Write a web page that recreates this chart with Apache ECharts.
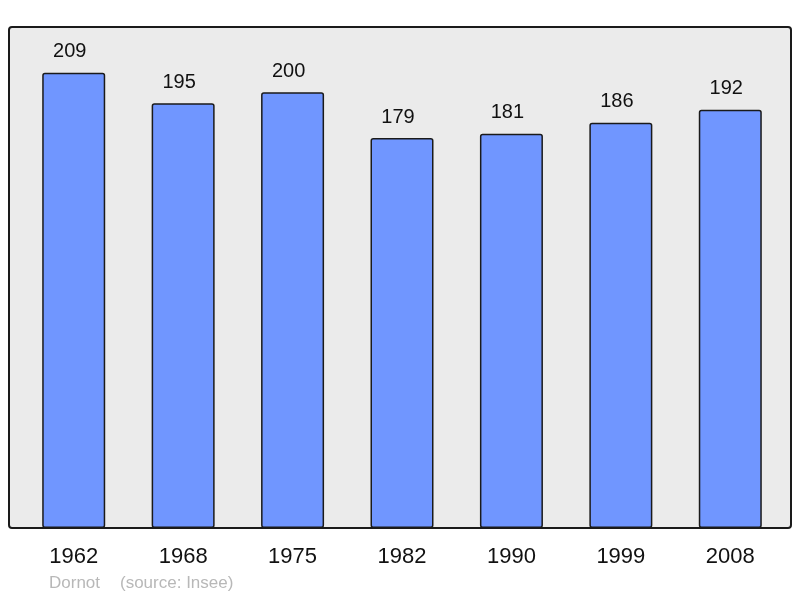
<!DOCTYPE html>
<html style='height: 100%'>
<head>
    <meta charset='utf-8'>
</head>
<body style='height: 100%; margin: 0; background: #fff'>
    <div id='container' style='width: 800px; height: 598px'></div>
    <script type='text/javascript' src='https://cdn.jsdelivr.net/npm/echarts@6/dist/echarts.min.js'></script>
    <script type="text/javascript">
var years = ['1962', '1968', '1975', '1982', '1990', '1999', '2008'];
var population = [209, 195, 200, 179, 181, 186, 192];

var dom = document.getElementById("container");
var myChart = echarts.init(dom);
var option = {
    backgroundColor: '#ffffff',
    animation: false,
    textStyle: { fontFamily: 'Liberation Sans' },
    graphic: [
        {
            type: 'rect',
            z: -10,
            shape: { x: 9, y: 27, width: 782, height: 501, r: 3 },
            style: { fill: '#ebebeb', stroke: '#1a1a1a', lineWidth: 2 }
        },
        {
            type: 'text',
            left: 49,
            top: 575,
            style: {
                text: 'Dornot',
                fill: '#b8b8b8',
                font: '17px "Liberation Sans"'
            }
        },
        {
            type: 'text',
            left: 120,
            top: 575,
            style: {
                text: '(source: Insee)',
                fill: '#b8b8b8',
                font: '17px "Liberation Sans"'
            }
        }
    ],
    grid: {
        left: 19,
        right: 15,
        top: 27,
        bottom: 70
    },
    xAxis: {
        type: 'category',
        data: years,
        axisLine: { show: false },
        axisTick: { show: false },
        axisLabel: {
            color: '#111',
            fontSize: 22,
            margin: 18
        }
    },
    yAxis: {
        type: 'value',
        min: 0,
        max: 230,
        show: false,
        splitLine: { show: false }
    },
    series: [
        {
            type: 'bar',
            data: population,
            barWidth: 63,
            itemStyle: {
                color: '#7096ff',
                borderColor: '#1a1a1a',
                borderWidth: 1.5,
                borderRadius: 2
            },
            label: {
                show: true,
                position: 'top',
                distance: 11,
                offset: [-4, 0],
                color: '#111',
                fontSize: 20
            }
        }
    ]
};
myChart.setOption(option, true);
    </script>
</body>
</html>
